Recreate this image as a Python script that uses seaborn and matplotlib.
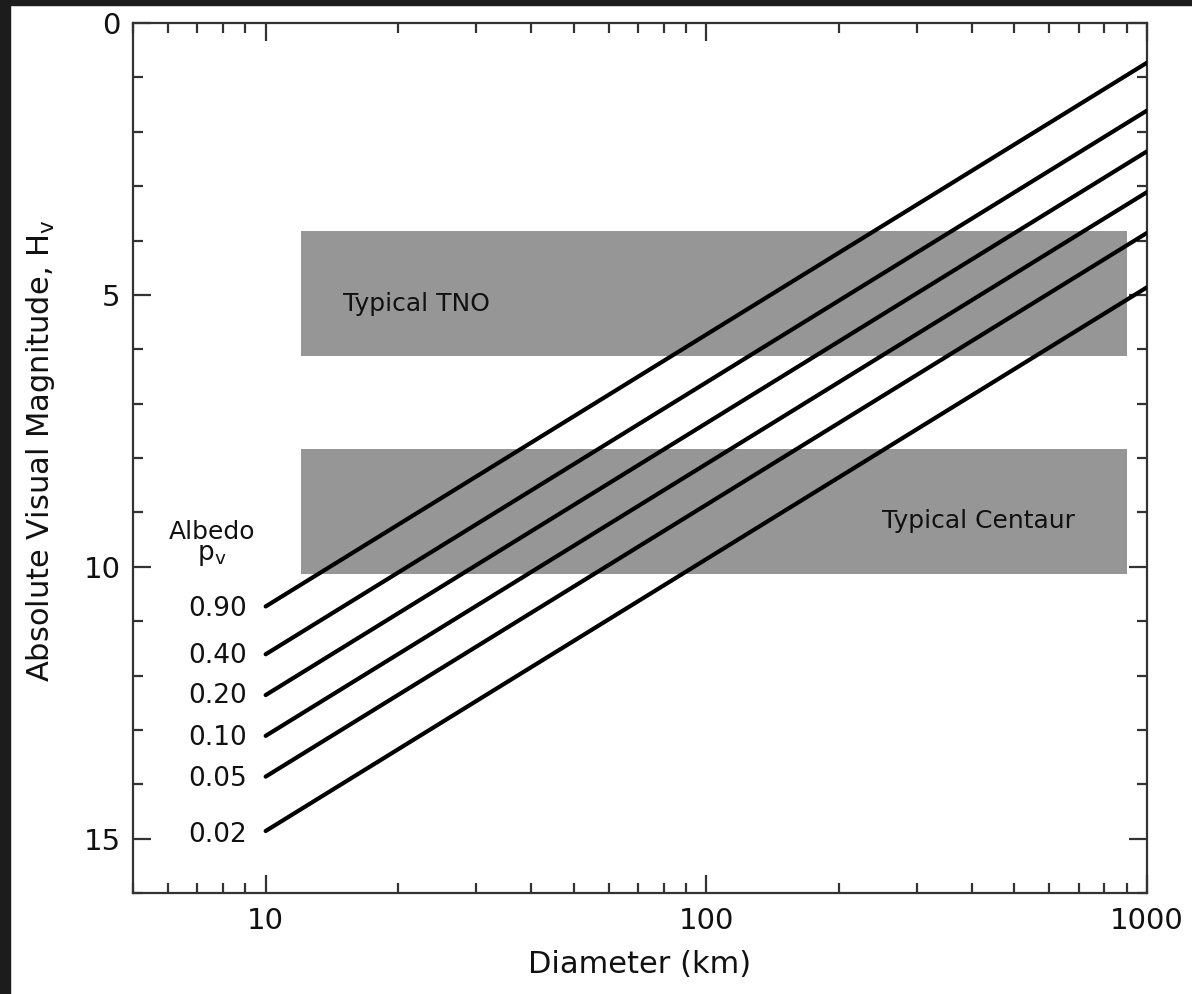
import numpy as np
import pandas as pd
import matplotlib
matplotlib.use("Agg")
import matplotlib.pyplot as plt
import seaborn as sns
from matplotlib.ticker import FixedLocator, NullFormatter, FixedFormatter
from matplotlib.patches import Rectangle

# Albedo families: absolute magnitude at D = 10 km and D = 1000 km
albedos = ["0.90", "0.40", "0.20", "0.10", "0.05", "0.02"]
diam_ends = [10, 1000]
h_at_10 = [10.73, 11.61, 12.36, 13.11, 13.86, 14.86]
h_at_1000 = [0.73, 1.61, 2.36, 3.11, 3.86, 4.86]

# Shaded magnitude ranges
band_names = ["Typical TNO", "Typical Centaur"]
band_d = [12, 900]
band_h_top = [3.82, 7.83]
band_h_bottom = [6.12, 10.13]

x_major = [10, 100, 1000]
x_minor = [5, 6, 7, 8, 9, 20, 30, 40, 50, 60, 70, 80, 90,
           200, 300, 400, 500, 600, 700, 800, 900]
y_major = [0, 5, 10, 15]

rows = []
for a, h0, h1 in zip(albedos, h_at_10, h_at_1000):
    rows.append({"albedo": a, "D": diam_ends[0], "H": h0})
    rows.append({"albedo": a, "D": diam_ends[1], "H": h1})
df = pd.DataFrame(rows)

sns.set_theme(style="white")
plt.rcParams["font.family"] = ["DejaVu Sans"]

fig = plt.figure(figsize=(11.92, 9.94), dpi=100)
fig.patch.set_facecolor("white")
ax = fig.add_axes([133 / 1192, 1 - 893 / 994, (1147 - 133) / 1192, (893 - 23) / 994])

# dark frame around the figure (top and left edges)
fig.patches.append(Rectangle((0, 1 - 5 / 994), 1, 5 / 994, transform=fig.transFigure,
                             color="#1c1c1c", zorder=0))
fig.patches.append(Rectangle((0, 0), 10 / 1192, 1, transform=fig.transFigure,
                             color="#1c1c1c", zorder=0))

ax.set_xscale("log")
ax.set_xlim(5, 1000)
ax.set_ylim(16, 0)

for name, top, bot in zip(band_names, band_h_top, band_h_bottom):
    ax.add_patch(Rectangle((band_d[0], top), band_d[1] - band_d[0], bot - top,
                           facecolor="#969696", edgecolor="none", zorder=1))

sns.lineplot(data=df, x="D", y="H", hue="albedo", units="albedo", estimator=None,
             palette=["black"] * len(albedos), linewidth=3.0, legend=False,
             ax=ax, zorder=3)

ax.text(15, 5.17, band_names[0], fontsize=18, va="center", ha="left", color="#111111", zorder=2)
ax.text(250, 9.15, band_names[1], fontsize=18, va="center", ha="left", color="#111111", zorder=2)

ax.text(7.55, 9.36, "Albedo", fontsize=18, ha="center", va="center", color="#111111")
ax.text(7.55, 9.78, r"$\mathregular{p_v}$", fontsize=19, ha="center", va="center", color="#111111")
label_h = [10.78, 11.65, 12.38, 13.15, 13.9, 14.93]
for a, h in zip(albedos, label_h):
    ax.text(9.05, h, a, fontsize=19, ha="right", va="center", color="#111111")

ax.xaxis.set_major_locator(FixedLocator(x_major))
ax.xaxis.set_major_formatter(FixedFormatter([str(v) for v in x_major]))
ax.xaxis.set_minor_locator(FixedLocator(x_minor))
ax.xaxis.set_minor_formatter(NullFormatter())
ax.yaxis.set_major_locator(FixedLocator(y_major))
ax.yaxis.set_minor_locator(FixedLocator(list(range(0, 17))))

ax.tick_params(which="both", direction="in", top=True, right=True, bottom=True, left=True,
               color="#333333", width=1.6, labelsize=21, labelcolor="#111111")
ax.tick_params(which="major", length=13)
ax.tick_params(which="minor", length=7)
ax.tick_params(axis="x", which="major", pad=10)
ax.tick_params(axis="y", which="major", pad=9)

for s in ax.spines.values():
    s.set_color("#333333")
    s.set_linewidth(1.6)
    s.set_visible(True)

ax.set_xlabel("Diameter (km)", fontsize=22, color="#111111")
ax.set_ylabel(r"Absolute Visual Magnitude, $\mathregular{H_v}$", fontsize=22, color="#111111")
ax.xaxis.set_label_coords(0.5, -0.065)
ax.yaxis.set_label_coords(-0.075, 0.508)

fig.savefig("out.png", dpi=100)
